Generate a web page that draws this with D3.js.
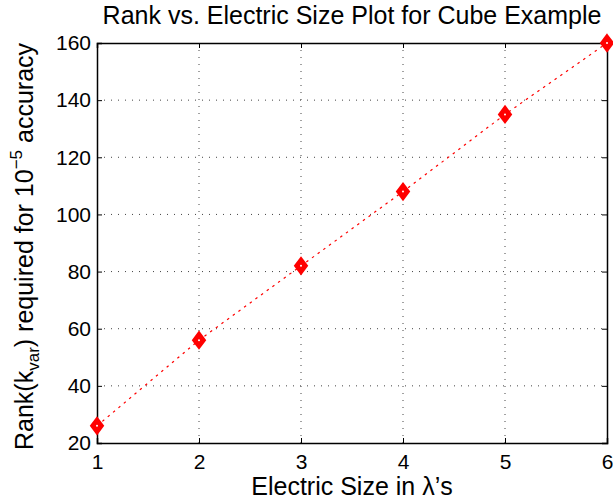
<!DOCTYPE html>
<html><head><meta charset="utf-8">
<script src="https://cdn.jsdelivr.net/npm/d3@7"></script>
<style>body{margin:0;background:#fff}svg{display:block}text{font-family:"Liberation Sans",Arial,sans-serif;fill:#000}</style>
</head><body>
<script>
const sizes = [1, 2, 3, 4, 5, 6];
const ranks = [26, 56, 82, 108, 135, 160];
const xTicks = [1, 2, 3, 4, 5, 6];
const yTicks = [20, 40, 60, 80, 100, 120, 140, 160];

const W = 613, H = 504;
const m = {l: 97, r: 6, t: 43, b: 61};
const svg = d3.select("body").append("svg").attr("width", W).attr("height", H);
const x = d3.scaleLinear().domain([1, 6]).range([m.l, W - m.r]);
const y = d3.scaleLinear().domain([20, 160]).range([H - m.b, m.t]);

// grid
const g = svg.append("g");
g.selectAll(".gx").data(xTicks.slice(1, -1)).enter().append("line")
  .attr("x1", d => x(d)).attr("x2", d => x(d)).attr("y1", y(20)).attr("y2", y(160))
  .attr("stroke", "#444").attr("stroke-width", 1).attr("stroke-dasharray", "1,6");
g.selectAll(".gy").data(yTicks.slice(1, -1)).enter().append("line")
  .attr("y1", d => y(d)).attr("y2", d => y(d)).attr("x1", x(1)).attr("x2", x(6))
  .attr("stroke", "#444").attr("stroke-width", 1).attr("stroke-dasharray", "1,6");

// axes
const fs = 21;
const xa = svg.append("g").attr("transform", `translate(0,${y(20)})`)
  .call(d3.axisBottom(x).tickValues(xTicks).tickSize(-5).tickPadding(11).tickFormat(d3.format("d")));
const xa2 = svg.append("g").attr("transform", `translate(0,${y(160)})`)
  .call(d3.axisTop(x).tickValues(xTicks).tickSize(-5).tickFormat(""));
const ya = svg.append("g").attr("transform", `translate(${x(1)},0)`)
  .call(d3.axisLeft(y).tickValues(yTicks).tickSize(-5).tickPadding(6).tickFormat(d3.format("d")));
const ya2 = svg.append("g").attr("transform", `translate(${x(6)},0)`)
  .call(d3.axisRight(y).tickValues(yTicks).tickSize(-5).tickFormat(""));
[xa, xa2, ya, ya2].forEach(a => {
  a.select(".domain").attr("stroke", "#000").attr("stroke-width", 1.5);
  a.selectAll(".tick line").attr("stroke", "#000");
  a.selectAll("text").style("font-size", fs + "px").style("font-family", '"Liberation Sans",Arial,sans-serif').attr("fill", "#000");
});

// line
svg.append("path").datum(sizes.map((s, i) => [s, ranks[i]]))
  .attr("d", d3.line().x(d => x(d[0])).y(d => y(d[1])))
  .attr("fill", "none").attr("stroke", "#ff0000").attr("stroke-width", 1.2).attr("stroke-dasharray", "2.5,4.5");

// markers
const mk = svg.append("g");
sizes.forEach((s, i) => {
  const cx = x(s), cy = y(ranks[i]);
  mk.append("path").attr("d", `M${cx},${cy-8}L${cx+6},${cy}L${cx},${cy+8}L${cx-6},${cy}Z`)
    .attr("fill", "#ff0000").attr("stroke", "#ff0000").attr("stroke-width", 2).attr("stroke-linejoin", "miter");
  mk.append("circle").attr("cx", cx).attr("cy", cy).attr("r", 1).attr("fill", "#fff");
});

// title
svg.append("text").attr("x", (x(1) + x(6)) / 2).attr("y", 24).attr("text-anchor", "middle")
  .style("font-size", "25px").text("Rank vs. Electric Size Plot for Cube Example");

// x label
const xl = svg.append("text").attr("x", (x(1) + x(6)) / 2).attr("y", 495).attr("text-anchor", "middle")
  .style("font-size", "25px");
xl.append("tspan").text("Electric Size in ");
xl.append("tspan").text("λ’s");

// y label
const yl = svg.append("text").attr("transform", `translate(33,450) rotate(-90)`)
  .attr("text-anchor", "start").style("font-size", "25px");
yl.append("tspan").text("Rank(k");
yl.append("tspan").attr("dy", 6).style("font-size", "17px").text("var");
yl.append("tspan").attr("dy", -6).text(") required for 10");
yl.append("tspan").attr("dy", -11).style("font-size", "17px").text("−5");
yl.append("tspan").attr("dy", 11).text(" accuracy");
</script>
</body></html>
